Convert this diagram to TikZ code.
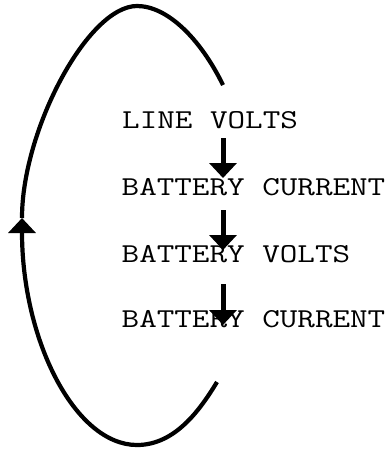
\documentclass[tikz,border=0pt]{standalone}
\usepackage{fontspec}
\newfontfamily\courfont[FakeStretch=1.25]{Latin Modern Mono}
\usetikzlibrary{arrows.meta,calc}
\begin{document}
\begin{tikzpicture}[x=1pt,y=-1pt,
  label text/.style={anchor=base west,inner sep=0pt,font=\courfont\fontsize{27.3}{30}\selectfont},
  flowarrow/.style={line width=5pt,-{Triangle[width=27pt,length=15pt]}},
  loopline/.style={line width=4.2pt}]
\useasboundingbox (0,0) rectangle (384,450);
\node[label text] (l1) at (122,128.5) {LINE VOLTS};
\node[label text] (l2) at (121.5,195) {BATTERY CURRENT};
\node[label text] (l3) at (121.5,262) {BATTERY VOLTS};
\node[label text] (l4) at (121.5,327) {BATTERY CURRENT};
\draw[flowarrow] ($(l1.base west)+(101,9.5)$) -- ($(l2.base west)+(101.5,-17)$);
\draw[flowarrow] ($(l2.base west)+(101.5,15)$) -- ($(l3.base west)+(101.5,-12)$);
\draw[flowarrow] ($(l3.base west)+(101.5,22)$) -- ($(l4.base west)+(101.5,-2)$);
\coordinate (loopstart) at (217,382);
\coordinate (loopleft) at (22,218);
\coordinate (loopend) at (223,85);
\draw[loopline,-{Triangle[width=27pt,length=15pt]}] (loopstart) .. controls (200,410) and (175,445) .. (137,445) .. controls (75,445) and (22,340) .. (loopleft);
\draw[loopline] (loopleft) .. controls (22,130) and (88,6) .. (137,6) .. controls (167,6) and (200,38) .. (loopend);
\end{tikzpicture}
\end{document}
